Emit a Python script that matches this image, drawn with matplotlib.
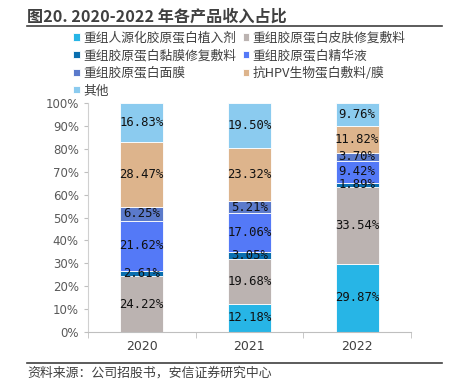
import matplotlib
matplotlib.use("Agg")
import matplotlib.pyplot as plt
from matplotlib.lines import Line2D

plt.rcParams['font.family'] = ['Noto Sans CJK SC', 'DejaVu Sans']

years = ["2020", "2021", "2022"]
series_names = ["重组人源化胶原蛋白植入剂", "重组胶原蛋白皮肤修复敷料", "重组胶原蛋白黏膜修复敷料",
                "重组胶原蛋白精华液", "重组胶原蛋白面膜", "抗HPV生物蛋白敷料/膜", "其他"]
implant = [0.0, 12.18, 29.87]
skin = [24.22, 19.68, 33.54]
mucosa = [2.61, 3.05, 1.89]
essence = [21.62, 17.06, 9.42]
mask = [6.25, 5.21, 3.70]
hpv = [28.47, 23.32, 11.82]
other = [16.83, 19.50, 9.76]
series = [implant, skin, mucosa, essence, mask, hpv, other]
colors = ["#27B5E6", "#BBB3B1", "#0A6FAF", "#5479F7", "#5B7ACB", "#DDB48C", "#8BCBEF"]

fig = plt.figure(figsize=(4.53, 3.85), dpi=100)
ax = fig.add_axes([0.194, 0.138, 0.713, 0.594])

x = list(range(len(years)))
bottoms = [0.0] * len(years)
handles = []
for name, vals, col in zip(series_names, series, colors):
    bars = ax.bar(x, vals, width=0.4, bottom=bottoms, color=col, edgecolor="white", linewidth=0.6, label=name)
    handles.append(bars)
    for i, v in enumerate(vals):
        if v > 0:
            ax.text(x[i], bottoms[i] + v / 2, f"{v:.2f}%", ha="center", va="center",
                    fontsize=8.8, family="DejaVu Sans Mono", color="#111111")
    bottoms = [b + v for b, v in zip(bottoms, vals)]

ax.set_xlim(-0.5, 2.5)
ax.set_ylim(0, 100)
ax.set_yticks(range(0, 101, 10))
ax.set_yticklabels([f"{t}%" for t in range(0, 101, 10)])
ax.set_xticks(x)
ax.set_xticklabels(years)
ax.set_xticks([-0.5, 0.5, 1.5, 2.5], minor=True)
ax.tick_params(axis="x", which="major", length=0, labelsize=9, colors="#404040", pad=6)
ax.tick_params(axis="x", which="minor", length=4, color="#BFBFBF", direction="out")
ax.tick_params(axis="y", length=3, color="#BFBFBF", labelsize=8.5, colors="#595959")
for lab in ax.get_xticklabels() + ax.get_yticklabels():
    lab.set_family("DejaVu Sans")
for s in ["top", "right"]:
    ax.spines[s].set_visible(False)
ax.spines["left"].set_color("#D0D0D0")
ax.spines["bottom"].set_color("#BFBFBF")

order = [0, 2, 4, 6, 1, 3, 5]
leg = fig.legend([handles[i] for i in order], [series_names[i] for i in order], ncol=2,
                 loc="upper left", bbox_to_anchor=(0.162, 0.918), frameon=False,
                 fontsize=9.2, handlelength=0.5, handleheight=0.5, handletextpad=0.25,
                 columnspacing=0.55, labelspacing=0.36, borderaxespad=0, borderpad=0)
for t in leg.get_texts():
    t.set_color("#404040")

fig.text(0.06, 0.957, "图20. 2020-2022 年各产品收入占比", fontsize=11.6, fontweight="bold",
         color="#404040", va="center", ha="left")
fig.add_artist(Line2D([0.06, 0.975], [0.932, 0.932], color="#404040", linewidth=1.2))
fig.add_artist(Line2D([0.06, 0.975], [0.057, 0.057], color="#404040", linewidth=1.2))
fig.text(0.06, 0.03, "资料来源：公司招股书，安信证券研究中心", fontsize=9.3, style="italic",
         color="#404040", va="center", ha="left")

fig.savefig("out.png", dpi=100)
